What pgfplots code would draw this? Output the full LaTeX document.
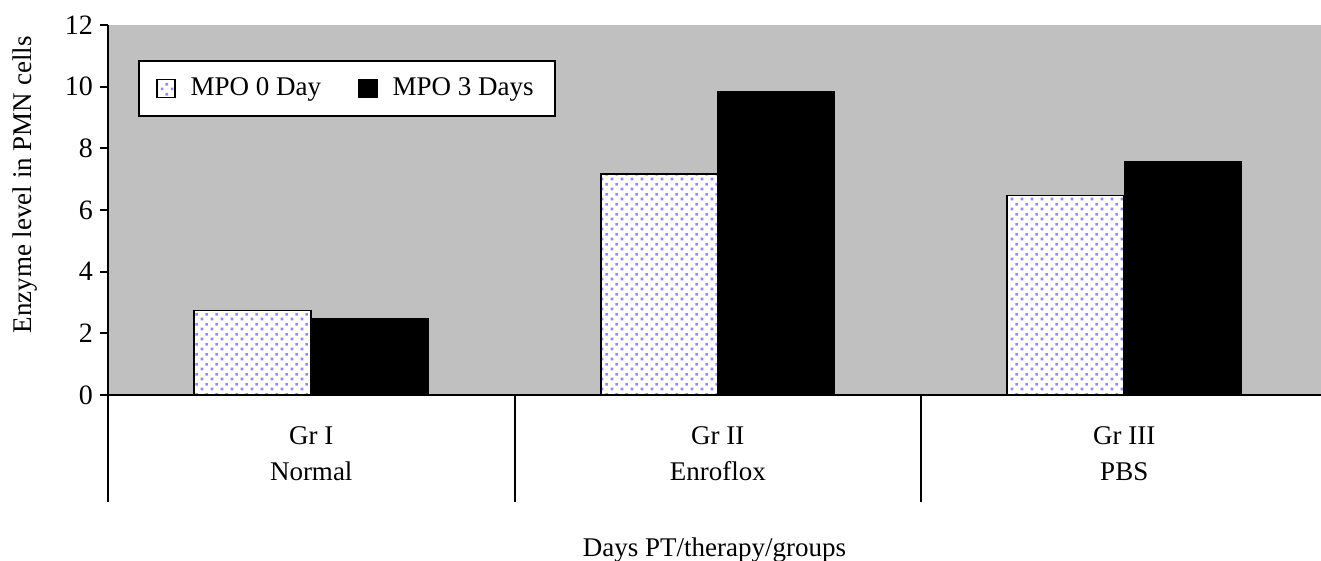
\documentclass[border=0pt]{standalone}
\usepackage{pgfplots}
\pgfplotsset{compat=1.18}
\usepackage{fontspec}
\setmainfont{Liberation Serif}
\usetikzlibrary{patterns.meta}
\definecolor{bggray}{RGB}{192,192,192}
\definecolor{dotcol}{RGB}{150,140,238}
\tikzdeclarepattern{
  name=sqdots,
  type=uncolored,
  bottom left={(0pt,0pt)}, top right={(5pt,5pt)},
  tile size={(5pt,5pt)},
  code={
    \fill (0.4pt,0.4pt) rectangle (1.8pt,1.8pt);
    \fill (2.9pt,2.9pt) rectangle (4.3pt,4.3pt);
  }
}
\begin{document}%
\begin{tikzpicture}
% plot-area background (axis box is placed with its south west corner at the origin)
\fill[bggray] (0pt,0pt) rectangle (606.5pt,185pt);
\begin{axis}[
  name=ax,
  at={(0,0)}, anchor=south west,
  width=606.5pt, height=185pt, scale only axis,
  xmin=-0.5, xmax=2.484, ymin=0, ymax=12,
  ybar=0pt, bar width=58.5pt,
  clip=false,
  axis x line*=bottom, axis y line*=left,
  axis line style={line width=1pt},
  /pgf/number format/assume math mode=true,
  ytick={0,2,...,12},
  ytick style={line width=1pt, black},
  major tick length=4pt, tick align=outside,
  yticklabel style={font=\fontsize{14}{16}\selectfont},
  xtick={0,1,2},
  xticklabels={Gr I\\[3pt]Normal, Gr II\\[3pt]Enroflox, Gr III\\[3pt]PBS},
  xtick style={draw=none},
  xticklabel style={align=center, font=\fontsize{13.5}{15}\selectfont, yshift=-8.5pt},
  xlabel={Days PT/therapy/groups},
  xlabel style={at={(rel axis cs:0.5,-0.4185)}, anchor=center, font=\fontsize{13.5}{15}\selectfont},
  ylabel={Enzyme level in PMN cells},
  ylabel style={at={(rel axis cs:-0.0684,0.568)}, anchor=center, font=\fontsize{13.5}{15}\selectfont},
  legend style={at={(0.0247,0.9054)}, anchor=north west, legend columns=2,
    draw=black, line width=1pt, fill=white, font=\fontsize{13.5}{15}\selectfont,
    inner xsep=8.5pt, inner ysep=6.5pt,
    /tikz/every odd column/.append style={column sep=5.5pt},
    /tikz/every even column/.append style={column sep=16.5pt}},
  legend image code/.code={\draw[#1, line width=0.8pt, draw=black] (0pt,-4.5pt) rectangle (9pt,4.5pt);},
]
\addplot[draw=black, line width=0.8pt, fill=white, postaction={pattern=sqdots, pattern color=dotcol}]
  coordinates {(0,2.74) (1,7.17) (2,6.47)};
\addplot[draw=black, fill=black]
  coordinates {(0,2.48) (1,9.85) (2,7.57)};
\legend{MPO 0 Day, MPO 3 Days\hspace{20pt}}
\draw[line width=1pt] (axis cs:-0.5,0) -- ++(0pt,-53.5pt);
\draw[line width=1pt] (axis cs:0.5,0) -- ++(0pt,-53.5pt);
\draw[line width=1pt] (axis cs:1.5,0) -- ++(0pt,-53.5pt);
\end{axis}
\draw[line width=1pt] (ax.south west) -- (ax.south east);
\pgfresetboundingbox
\path (-54pt,-83pt) rectangle (606.5pt,197.5pt);
\end{tikzpicture}%
\end{document}
